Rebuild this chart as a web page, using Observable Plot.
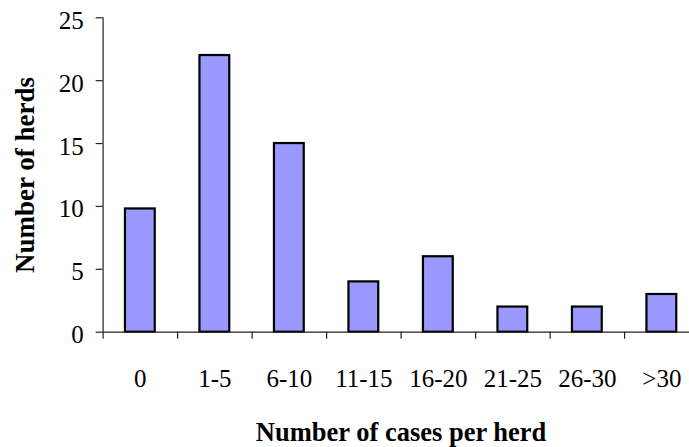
<!DOCTYPE html>
<html>
<head>
<meta charset="utf-8">
<script src="https://cdn.jsdelivr.net/npm/d3@7"></script>
<script src="https://cdn.jsdelivr.net/npm/@observablehq/plot@0.6"></script>
<style>
  html, body { margin: 0; padding: 0; background: #fff; overflow: hidden; }
  svg { display: block; }
  svg text { font-family: 'Liberation Serif', 'Times New Roman', serif; }
</style>
</head>
<body>
<div id="chart"></div>
<script>
const categories = ["0", "1-5", "6-10", "11-15", "16-20", "21-25", "26-30", ">30"];
const herds = [9.8, 22, 15, 4, 6, 2, 2, 3];
const yTicks = [0, 5, 10, 15, 20, 25];
const xTitle = "Number of cases per herd";
const yTitle = "Number of herds";

const data = categories.map((c, i) => ({i, category: c, value: herds[i]}));
const boundaries = d3.range(categories.length + 1);
const font = "'Liberation Serif', 'Times New Roman', serif";

const W = 689, H = 447;
const mL = 102.6, mR = -9.6, mT = 17.3, mB = 115.3;

const chart = Plot.plot({
  width: W,
  height: H,
  marginLeft: mL,
  marginRight: mR,
  marginTop: mT,
  marginBottom: mB,
  style: {fontFamily: font, background: "white", overflow: "visible"},
  x: {type: "linear", domain: [0, categories.length], range: [mL, W - mR], axis: null},
  y: {domain: [0, 25], range: [H - mB, mT], axis: null},
  marks: [
    Plot.rectY(data, {
      x1: d => d.i + 0.3,
      x2: d => d.i + 0.7,
      y: "value",
      fill: "#9999ff",
      stroke: "#000",
      strokeWidth: 2.2
    }),
    // axis lines
    Plot.ruleX([0], {y1: 0, y2: 25, stroke: "#222", strokeWidth: 1.2}),
    Plot.ruleY([0], {x1: 0, x2: categories.length, stroke: "#222", strokeWidth: 1.2}),
    // y axis ticks
    Plot.tickY(yTicks, {
      y: d => d,
      stroke: "#222",
      strokeWidth: 1.2,
      render(index, scales, values, dimensions, context, next) {
        const g = next(index, scales, values, dimensions, context);
        d3.select(g).selectAll("line")
          .attr("x1", scales.x(0) - 7)
          .attr("x2", scales.x(0));
        return g;
      }
    }),
    // y tick labels
    Plot.text(yTicks, {
      x: 0,
      y: d => d,
      text: d => String(d),
      dx: -19.3,
      dy: 11,
      lineAnchor: "bottom",
      textAnchor: "end",
      fontSize: 25,
      fontFamily: font,
      fill: "#000"
    }),
    // x boundary ticks (below the axis line)
    Plot.ruleX(boundaries, {
      x: d => d,
      stroke: "#222",
      strokeWidth: 1.2,
      render(index, scales, values, dimensions, context, next) {
        const g = next(index, scales, values, dimensions, context);
        d3.select(g).selectAll("line")
          .attr("y1", scales.y(0))
          .attr("y2", scales.y(0) + 7);
        return g;
      }
    }),
    // x category labels
    Plot.text(data, {
      x: d => d.i + 0.5,
      y: 0,
      text: "category",
      dy: 55,
      lineAnchor: "bottom",
      textAnchor: "middle",
      fontSize: 25,
      fontFamily: font,
      fill: "#000"
    }),
    // x title
    Plot.text([xTitle], {
      x: categories.length / 2,
      y: 0,
      text: d => d,
      dy: 108.8,
      lineAnchor: "bottom",
      textAnchor: "middle",
      fontSize: 26.5,
      fontWeight: "bold",
      fontFamily: font,
      fill: "#000"
    }),
    // y title
    Plot.text([yTitle], {
      x: 0,
      y: 12.5,
      text: d => d,
      dx: -69.6,
      rotate: -90,
      lineAnchor: "bottom",
      textAnchor: "middle",
      fontSize: 27,
      fontWeight: "bold",
      fontFamily: font,
      fill: "#000"
    })
  ]
});

document.getElementById("chart").appendChild(chart);
</script>
</body>
</html>
